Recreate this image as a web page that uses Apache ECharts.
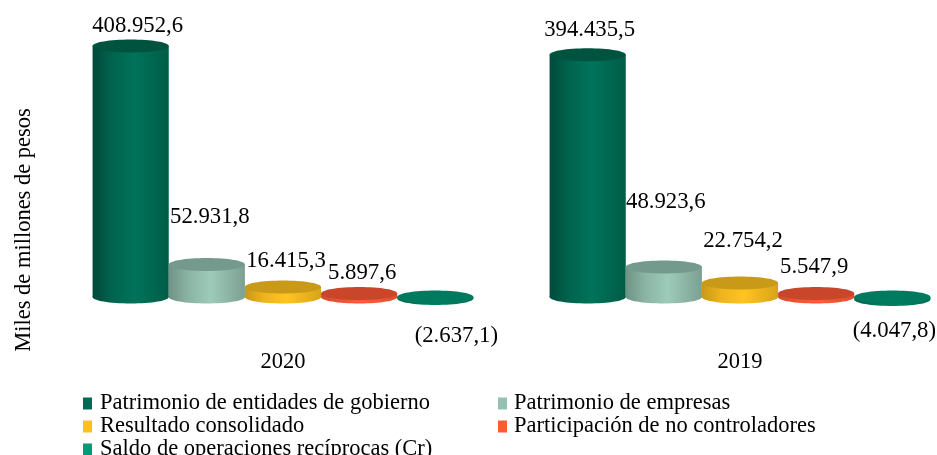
<!DOCTYPE html>
<html>
<head>
<meta charset="utf-8">
<style>
  html, body { margin: 0; padding: 0; background: #fff; }
  #chart { width: 937px; height: 455px; }
</style>
<script src="https://cdn.jsdelivr.net/npm/echarts@6/dist/echarts.min.js"></script>
</head>
<body>
<div id="chart"></div>
<script>
var years = ['2020', '2019'];
var names = [
  'Patrimonio de entidades de gobierno',
  'Patrimonio de empresas',
  'Resultado consolidado',
  'Participación de no controladores',
  'Saldo de operaciones recíprocas (Cr)'
];
var gobierno = [408952.6, 394435.5];
var empresas = [52931.8, 48923.6];
var resultado = [16415.3, 22754.2];
var participacion = [5897.6, 5547.9];
var saldo = [-2637.1, -4047.8];
var allValues = [gobierno, empresas, resultado, participacion, saldo];

// [left edge, middle, bright, right edge, top] for each cylinder
var shades = [
  ['#004a3a', '#00634d', '#00735a', '#005c47', '#00533f'],
  ['#6f9285', '#8bb3a3', '#9dcbb9', '#7d9f92', '#739a8c'],
  ['#c9981a', '#eeb41d', '#ffc41f', '#d8a31a', '#c99a17'],
  ['#d04a2d', '#ee5433', '#ff5c38', '#dc4e2f', '#c9462a'],
  ['#00674f', '#007459', '#008063', '#006f55', '#007a5e']
];
var legendColors = ['#006b54', '#96c0b0', '#ffbf1f', '#ff5a36', '#009b77'];

// label shift from the middle of the cylinder top, [dx, dy], per series then year
var labelShift = [
  [[7, -20], [2, -25]],
  [[3, -47], [2, -65]],
  [[3, -26], [3, -42]],
  [[3, -20], [-2, -27]],
  [[21, 37], [2, 32]]
];

var font = '"Liberation Serif", "Times New Roman", serif';

function fmt(v) {
  var s = Math.abs(v).toFixed(1).replace('.', ',').replace(/\B(?=(\d{3})+(?!\d))/g, '.');
  return v < 0 ? '(' + s + ')' : s;
}

function cylinder(idx) {
  return function (params, api) {
    var cat = api.value(0);
    var val = api.value(1);
    var band = api.size([1, 0])[0];
    var w = band / 6;
    var cx = api.coord([cat, 0])[0] + (idx - 2) * w;
    var y0 = api.coord([cat, 0])[1];
    var y1 = api.coord([cat, val])[1];
    var upper = Math.min(y0, y1);
    var lower = Math.max(y0, y1);
    var rx = w / 2;
    var ry = 6.5;
    var c = shades[idx];
    var side = new echarts.graphic.LinearGradient(0, 0, 1, 0, [
      { offset: 0, color: c[0] },
      { offset: 0.25, color: c[1] },
      { offset: 0.55, color: c[2] },
      { offset: 1, color: c[3] }
    ]);
    var shift = labelShift[idx][cat];
    return {
      type: 'group',
      children: [
        { type: 'ellipse', shape: { cx: cx, cy: lower, rx: rx, ry: ry }, style: { fill: side } },
        { type: 'rect', shape: { x: cx - rx, y: upper, width: w, height: lower - upper }, style: { fill: side } },
        { type: 'ellipse', shape: { cx: cx, cy: upper, rx: rx, ry: ry }, style: { fill: c[4] } },
        {
          type: 'text',
          style: {
            x: cx + shift[0], y: y1 + shift[1],
            text: fmt(val), fill: '#000', font: '22.75px ' + font,
            align: 'center', verticalAlign: 'middle'
          }
        }
      ]
    };
  };
}

var chart = echarts.init(document.getElementById('chart'), null, { renderer: 'canvas' });
chart.setOption({
  animation: false,
  grid: { left: 54.5, top: 20.7, width: 914, height: 307, outerBoundsMode: 'none' },
  xAxis: {
    type: 'category',
    data: years,
    axisLine: { show: false, onZero: false },
    axisTick: { show: false },
    axisLabel: { color: '#000', fontFamily: font, fontSize: 22.5, margin: 23 }
  },
  yAxis: {
    type: 'value',
    min: -50000,
    max: 450000,
    show: false
  },
  legend: [
    {
      data: [names[0], names[2], names[4]],
      orient: 'vertical', left: 78, top: 387, height: 90, itemGap: 0,
      icon: 'rect', itemWidth: 9, itemHeight: 12,
      textStyle: { color: '#000', fontFamily: font, fontSize: 22.5, lineHeight: 23, padding: [0, 0, 0, 3] }
    },
    {
      data: [names[1], names[3]],
      orient: 'vertical', left: 493, top: 387, height: 90, itemGap: 0,
      icon: 'rect', itemWidth: 9, itemHeight: 12,
      textStyle: { color: '#000', fontFamily: font, fontSize: 22.5, lineHeight: 23, padding: [0, 0, 0, 2] }
    }
  ],
  graphic: [{
    type: 'text',
    x: 24, y: 230, rotation: Math.PI / 2,
    style: {
      text: 'Miles de millones de pesos', fill: '#000', font: '22.5px ' + font,
      align: 'center', verticalAlign: 'middle'
    }
  }],
  series: allValues.map(function (vals, i) {
    return {
      type: 'custom',
      name: names[i],
      renderItem: cylinder(i),
      itemStyle: { color: legendColors[i] },
      clip: false,
      encode: { x: 0, y: 1 },
      data: vals.map(function (v, k) { return [k, v]; })
    };
  })
});
</script>
</body>
</html>
